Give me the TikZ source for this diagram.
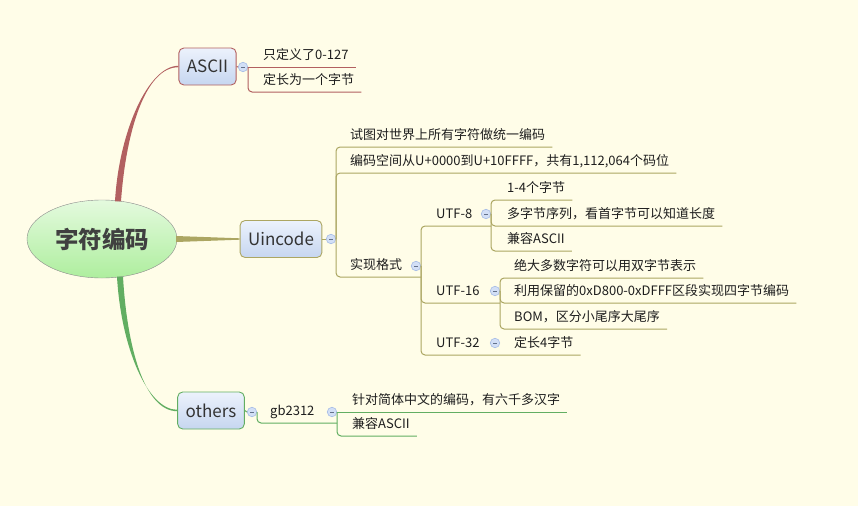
\documentclass[tikz,border=0pt]{standalone}
\usepackage{fontspec}
\setmainfont{Noto Sans CJK SC}
\usetikzlibrary{shapes.geometric}
\usetikzlibrary{calc}

\definecolor{bgcol}{RGB}{255,253,232}
\definecolor{asciicol}{RGB}{178,96,96}
\definecolor{uincol}{RGB}{172,166,98}
\definecolor{othcol}{RGB}{98,174,98}
\definecolor{boxtop}{RGB}{236,242,252}
\definecolor{boxbot}{RGB}{198,214,240}
\definecolor{roottop}{RGB}{228,250,222}
\definecolor{rootbot}{RGB}{174,238,158}
\definecolor{foldfill}{RGB}{210,223,246}
\definecolor{folddraw}{RGB}{165,188,230}
\definecolor{txtcol}{RGB}{30,30,30}

\begin{document}
\begin{tikzpicture}[
x=1pt, y=-1pt,
rootnode/.style={ellipse, draw=black!45, top color=roottop, bottom color=rootbot, minimum width=150pt, minimum height=78pt, inner sep=0pt, font=\fontsize{23.5}{26}\selectfont\bfseries, text=black!75},
topicnode/.style={rectangle, rounded corners=5pt, top color=boxtop, bottom color=boxbot, minimum height=37pt, inner xsep=8pt, font=\fontsize{17}{20}\selectfont, text=black!80, line width=0.9pt},
leaf/.style={anchor=south west, inner xsep=7pt, inner ysep=0pt, text height=10pt, text depth=7pt, font=\fontsize{13}{15}\selectfont, text=txtcol},
fold/.style={circle, minimum size=9.5pt, inner sep=0pt, fill=foldfill, draw=folddraw, line width=0.6pt, path picture={\draw[folddraw!60!black, line width=0.6pt] ([xshift=-2pt]path picture bounding box.center) -- ([xshift=2pt]path picture bounding box.center);}},
link/.style={line width=1pt, rounded corners=4pt}
]
\fill[bgcol] (0,0) rectangle (858,506);
\useasboundingbox (0,0) rectangle (858,506);

%Nodes
\node[rootnode] (root) at (102,239) {字符编码};
\node[topicnode, draw=asciicol] (ascii) at (207.5,66.5) {ASCII};
\node[topicnode, draw=uincol] (uin) at (281,239) {Uincode};
\node[topicnode, draw=othcol] (oth) at (211,410.5) {others};

%Leaves
\node[leaf] (a1) at (256,67) {只定义了0-127};
\node[leaf] (a2) at (256,92) {定长为一个字节};

\node[leaf] (u1) at (343,147) {试图对世界上所有字符做统一编码};
\node[leaf] (u2) at (343,173) {编码空间从U+0000到U+10FFFF，共有1,112,064个码位};
\node[leaf] (shix) at (343,277) {实现格式};
\node[leaf] (utf8) at (429,226) {UTF-8};
\node[leaf] (e1) at (500,200) {1-4个字节};
\node[leaf] (e2) at (500,226) {多字节序列，看首字节可以知道长度};
\node[leaf] (e3) at (500,251) {兼容ASCII};
\node[leaf] (utf16) at (429,303) {UTF-16};
\node[leaf] (s1) at (507,278) {绝大多数字符可以用双字节表示};
\node[leaf] (s2) at (507,303) {利用保留的0xD800-0xDFFF区段实现四字节编码};
\node[leaf] (s3) at (507,329) {BOM，区分小尾序大尾序};
\node[leaf] (utf32) at (429,355) {UTF-32};
\node[leaf] (t1) at (507,355) {定长4字节};

\node[leaf] (gb) at (263,423) {gb2312};
\node[leaf] (g1) at (345,412) {针对简体中文的编码，有六千多汉字};
\node[leaf] (g2) at (345,436) {兼容ASCII};

%Fold marks
\node[fold] (asciifold) at (243,67) {};
\node[fold] (uinfold) at (331,239) {};
\node[fold] (shixfold) at (416,266) {};
\node[fold] (utf8fold) at (486,214) {};
\node[fold] (utf16fold) at (495,291) {};
\node[fold] (utf32fold) at (495,343) {};
\node[fold] (othfold) at (252,412) {};
\node[fold] (gbfold) at (332,412) {};

%Branches
\fill[asciicol] ($(root.north)+(13,1.5)$) .. controls +(4,-70) and +(-30,0) .. ($(ascii.west)+(0,-0.7)$)
  -- ($(ascii.west)+(0,0.7)$) .. controls +(-33,0) and +(5,-70) .. ($(root.north)+(19,1.5)$) -- cycle;
\fill[uincol] ($(root.east)+(-1,-3)$) -- ($(uin.west)+(0,-0.7)$) -- ($(uin.west)+(0,0.7)$) -- ($(root.east)+(-1,3)$) -- cycle;
\fill[othcol] ($(root.south)+(15,-1.5)$) .. controls +(4,70) and +(-30,0) .. ($(oth.west)+(0,-0.7)$)
  -- ($(oth.west)+(0,0.7)$) .. controls +(-33,0) and +(4,70) .. ($(root.south)+(21,-1.5)$) -- cycle;

%Links
\draw[link, asciicol] (ascii.east) -- (asciifold.west);
\draw[link, asciicol] (asciifold.east) -- (a1.south east);
\draw[link, asciicol] (asciifold.east) |- (a2.south east);

\draw[link, uincol] (uin.east) -- (uinfold.west);
\foreach \c in {u1,u2} \draw[link, uincol] (uinfold.east) |- (\c.south east);
\draw[link, uincol] (uinfold.east) |- (shixfold.east |- shix.south);
\draw[link, uincol] (shixfold.east) |- (utf8fold.east |- utf8.south);
\draw[link, uincol] (shixfold.east) |- (utf16fold.east |- utf16.south);
\draw[link, uincol] (shixfold.east) |- (t1.south east);
\foreach \c in {e1,e2,e3} \draw[link, uincol] (utf8fold.east) |- (\c.south east);
\foreach \c in {s1,s2,s3} \draw[link, uincol] (utf16fold.east) |- (\c.south east);

\draw[link, othcol] (oth.east) -- (othfold.west);
\draw[link, othcol] (othfold.east) |- (gbfold.east |- gb.south);
\draw[link, othcol] (gbfold.east) -- (g1.south east);
\draw[link, othcol] (gbfold.east) |- (g2.south east);

\end{tikzpicture}
\end{document}
